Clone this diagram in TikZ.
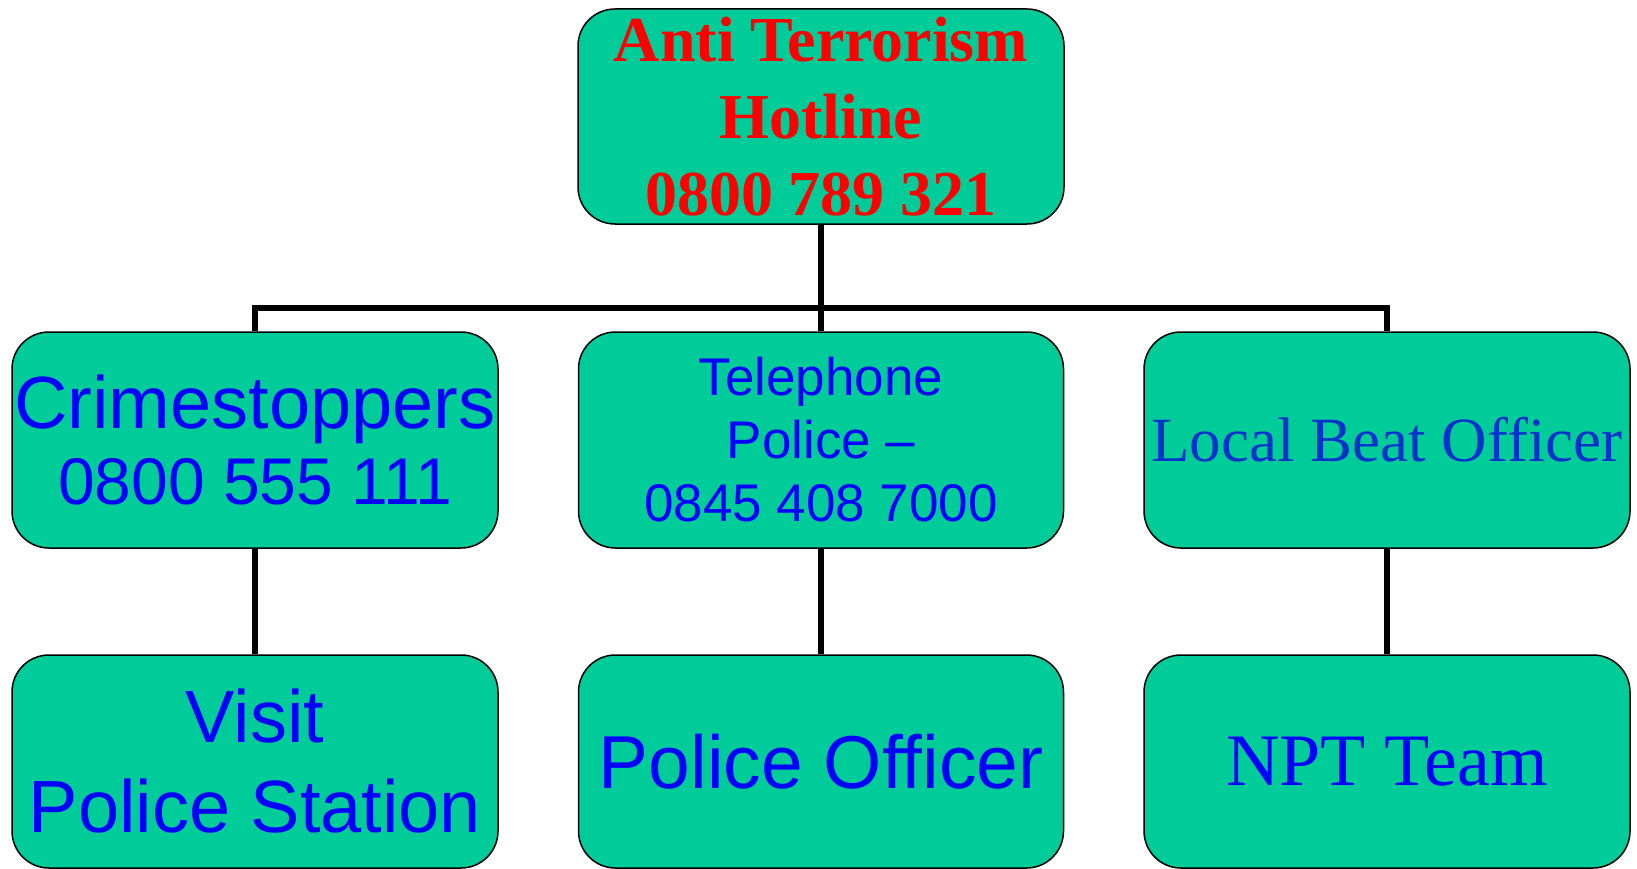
\documentclass[tikz,border=0pt]{standalone}
\usepackage{fontspec}
\setmainfont{Liberation Serif}
\newfontfamily\arialf{Liberation Sans}
\definecolor{boxfill}{RGB}{0,204,153}
\definecolor{txtblue}{RGB}{0,0,255}
\definecolor{txtblue2}{RGB}{0,51,204}
\definecolor{txtred}{RGB}{255,0,0}
\tikzset{
  orgbox/.style={draw=black, line width=1.5pt, fill=boxfill, rounded corners=37pt,
    minimum width=486pt, minimum height=215pt, inner sep=0pt, align=center},
  conn/.style={draw=black, line width=5.5pt}
}
\begin{document}
\begin{tikzpicture}[x=1pt,y=-1pt]
\useasboundingbox (0,0) rectangle (1637,869);
% top
\node[orgbox, text=txtred, font=\bfseries\fontsize{64}{77}\selectfont] (top) at (821,116.5)
  {Anti Terrorism\\Hotline\\0800 789 321};
% middle row
\node[orgbox, text=txtblue, minimum height=216pt] (crime) at (255,440)
  {\arialf\fontsize{74}{78}\selectfont Crimestoppers\\[14pt]\arialf\fontsize{66}{78}\selectfont 0800 555 111};
\node[orgbox, text=txtblue, minimum width=485pt, minimum height=216pt, font=\arialf\fontsize{53}{63}\selectfont] (tel) at (821,440)
  {Telephone\\Police –\\0845 408 7000};
\node[orgbox, text=txtblue2, minimum height=216pt, font=\fontsize{63}{75}\selectfont] (beat) at (1387,440)
  {Local Beat Officer};
% bottom row
\node[orgbox, text=txtblue, minimum height=213pt, font=\arialf\fontsize{74}{90}\selectfont] (visit) at (255,761.5)
  {Visit\\Police Station};
\node[orgbox, text=txtblue, minimum width=485pt, minimum height=213pt, font=\arialf\fontsize{75}{90}\selectfont] (officer) at (821,761.5)
  {Police Officer};
\node[orgbox, text=txtblue, minimum height=213pt, font=\fontsize{74}{90}\selectfont] (npt) at (1387,761.5)
  {NPT Team};
% connectors
\coordinate (bus) at (821,308);
\draw[conn] (top.south) -- (tel.north);
\draw[conn] (crime.north) |- (bus) -| (beat.north);
\draw[conn] (crime.south) -- (visit.north);
\draw[conn] (tel.south) -- (officer.north);
\draw[conn] (beat.south) -- (npt.north);
\end{tikzpicture}
\end{document}
